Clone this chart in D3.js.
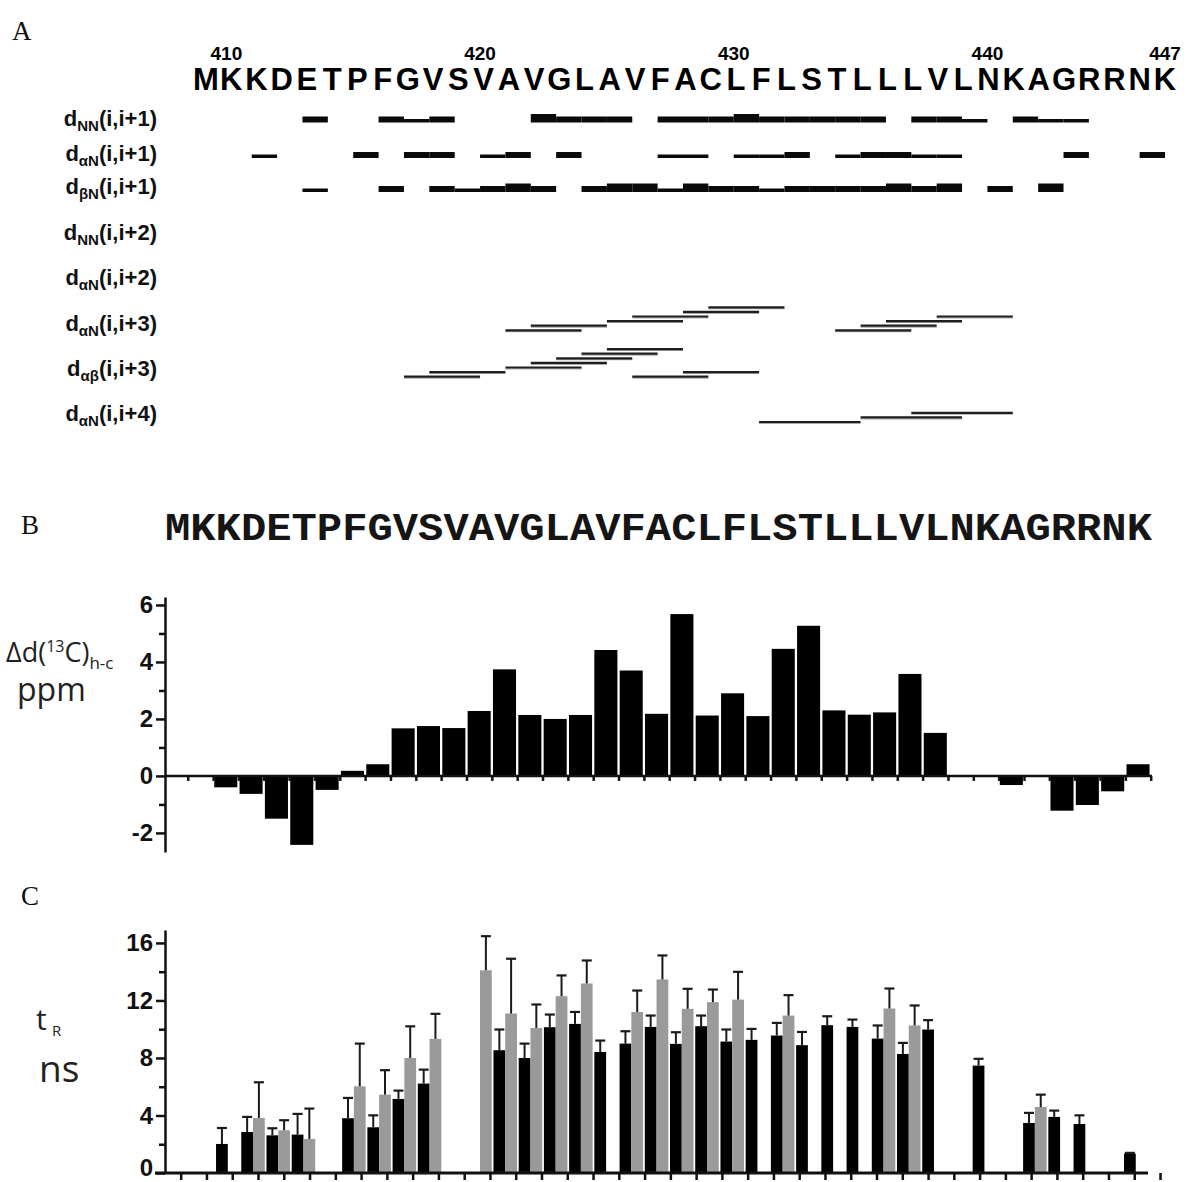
<!DOCTYPE html>
<html><head><meta charset="utf-8">
<script src="https://cdn.jsdelivr.net/npm/d3@7"></script>
<style>body{margin:0;background:#fff} svg{display:block}</style>
</head><body>
<svg id="chart" width="1187" height="1182"></svg>
<script>
// ================= DATA =================
// Panel A
const sequence = "MKKDETPFGVSVAVGLAVFACLFLSTLLLVLNKAGRRNK".split("");
const firstResidue = 409;
const positionLabels = [410, 420, 430, 440, 447];
const noeRowSubs  = ["NN", "αN", "βN", "NN", "αN", "αN", "αβ", "αN"];
const noeRowSpans = ["(i,i+1)", "(i,i+1)", "(i,i+1)", "(i,i+2)", "(i,i+2)", "(i,i+3)", "(i,i+3)", "(i,i+4)"];

// sequential NOEs: [residue i, intensity 1 = weak, 2 = medium, 3 = strong]
const dNN_i1 = [[413,2],[416,2],[417,1],[418,2],[422,3],[423,2],[424,2],[425,2],[427,2],[428,2],[429,2],
                [430,3],[431,2],[432,2],[433,2],[434,2],[435,2],[437,2],[438,2],[439,1],[441,2],[442,1],[443,1]];
const daN_i1 = [[411,1],[415,2],[417,2],[418,2],[420,1],[421,2],[423,2],[427,1],[428,1],[430,1],[431,1],
                [432,2],[434,1],[435,2],[436,2],[437,1],[438,1],[443,2],[446,2]];
const dbN_i1 = [[413,1],[416,2],[418,2],[419,1],[420,2],[421,3],[422,2],[424,2],[425,3],[426,3],[427,1],
                [428,3],[429,2],[430,2],[431,1],[432,2],[433,2],[434,2],[435,2],[436,3],[437,2],[438,3],
                [440,2],[442,3]];
// medium-range NOEs: [residue i, stacking track]
const dNN_i2 = [];
const daN_i2 = [];
const daN_i3 = [[421,0],[422,1],[425,2],[426,3],[428,4],[429,5],[434,0],[435,1],[436,2],[438,3]];
const dab_i3 = [[417,0],[418,1],[421,2],[422,3],[423,4],[424,5],[425,6],[426,0],[428,1]];
const daN_i4 = [[431,0],[435,1],[437,2]];

// Panel B : Δδ(13C) helix - coil (ppm), one value per residue 409..447
const shiftDiff = [0, 0, -0.40, -0.63, -1.50, -2.42, -0.49, 0.18, 0.41, 1.67,
                   1.75, 1.68, 2.28, 3.74, 2.14, 2.00, 2.14, 4.42, 3.70, 2.18,
                   5.68, 2.12, 2.90, 2.10, 4.46, 5.27, 2.30, 2.15, 2.23, 3.58,
                   1.51, 0, 0, -0.32, 0, -1.22, -1.02, -0.54, 0.41];
const shiftTicks = [-2, 0, 2, 4, 6];
const shiftMinorTicks = [-1, 1, 3, 5];
const shiftAxisExtent = [-2.67, 6.28];

// Panel C : tR (ns), black and grey series with upper error
const tauBlack = [null, null, 2.02, 2.85, 2.62, 2.67, null, 3.81, 3.18, 5.15,
                  6.22, null, null, 8.54, 8.00, 10.14, 10.37, 8.42, 9.00, 10.16,
                  8.98, 10.21, 9.14, 9.26, 9.56, 8.89, 10.28, 10.16, 9.35, 8.28,
                  9.98, null, 7.47, null, 3.48, 3.90, 3.41, null, 1.35];
const tauBlackErr = [null, null, 1.11, 1.05, 0.49, 1.44, null, 1.41, 0.83, 0.58,
                     0.97, null, null, 1.44, 1.00, 0.88, 0.83, 0.79, 0.86, 0.79,
                     0.81, 0.74, 0.84, 0.76, 0.88, 0.92, 0.62, 0.51, 0.91, 0.77,
                     0.65, null, 0.47, null, 0.70, 0.44, 0.60, null, 0.05];
const tauGrey = [null, null, null, 3.83, 2.97, 2.37, null, 6.03, 5.45, 8.00,
                 9.33, null, 14.10, 11.09, 10.09, 12.30, 13.18, null, 11.20, 13.46,
                 11.42, 11.88, 12.06, null, 10.95, null, null, null, 11.44, 10.26,
                 null, null, null, null, 4.59, null, null, null, null];
const tauGreyErr = [null, null, null, 2.48, 0.70, 2.11, null, 2.97, 1.70, 2.20,
                    1.74, null, 2.37, 3.81, 1.63, 1.44, 1.60, null, 1.49, 1.67,
                    1.39, 0.88, 1.93, null, 1.42, null, null, null, 1.39, 1.39,
                    null, null, null, null, 0.86, null, null, null, null];
const tauTicks = [0, 4, 8, 12, 16];
const tauMinorTicks = [2, 6, 10, 14];
const tauAxisMax = 16.9;
const tauAxisTickCount = 39;

// ================= DRAW =================
const svg = d3.select("#chart");
const SERIF = "'Liberation Serif','Times New Roman',serif";
const SANS = "'Liberation Sans',Arial,Helvetica,sans-serif";
const OPEN = "'Open Sans','Noto Sans',sans-serif";
const MONO = "'Courier New','Liberation Mono',monospace";
const nRes = sequence.length;
const resIdx = d3.range(nRes);

svg.append("rect").attr("width", 1187).attr("height", 1182).attr("fill", "#fff");

// panel letters
[["A", 12, 40], ["B", 21, 534], ["C", 21, 905]].forEach(([t, x, y]) =>
  svg.append("text").attr("x", x).attr("y", y).attr("font-family", SERIF)
     .attr("font-size", 27).attr("fill", "#111").text(t));

// ---------- Panel A ----------
const xA = d3.scaleLinear().domain([firstResidue, firstResidue + nRes - 1]).range([201, 1165]);
const xLetter = d3.scaleLinear().domain([firstResidue, firstResidue + nRes - 1]).range([206, 1165]);
const thick = d3.scaleLinear().domain([1, 3]).range([3.5, 8.5]);

const gA = svg.append("g");
gA.selectAll("text.pos").data(positionLabels).join("text")
  .attr("x", d => xA(d)).attr("y", 60).attr("text-anchor", "middle")
  .attr("font-family", SANS).attr("font-weight", "bold").attr("font-size", 19).text(d => d);

gA.selectAll("text.res").data(sequence).join("text")
  .attr("x", (d, i) => xLetter(firstResidue + i)).attr("y", 90).attr("text-anchor", "middle")
  .attr("font-family", SANS).attr("font-weight", "bold").attr("font-size", 31).text(d => d);

const rowBaselines = [126, 161, 194, 240, 285, 331, 376, 421];
noeRowSubs.forEach((sub, r) => {
  const t = gA.append("text").attr("x", 157).attr("y", rowBaselines[r]).attr("text-anchor", "end")
    .attr("font-family", SANS).attr("font-weight", "bold").attr("font-size", 22).attr("fill", "#111");
  t.append("tspan").text("d");
  t.append("tspan").attr("font-size", 15).attr("dy", 5).text(sub);
  t.append("tspan").attr("dy", -5).text(noeRowSpans[r]);
});

// sequential NOE bars (bottom aligned)
const seqRows = [{data: dNN_i1, bottom: 122.5}, {data: daN_i1, bottom: 158}, {data: dbN_i1, bottom: 192}];
seqRows.forEach(row => {
  gA.append("g").selectAll("rect").data(row.data).join("rect")
    .attr("x", d => xA(d[0])).attr("width", d => xA(d[0] + 1) - xA(d[0]))
    .attr("y", d => row.bottom - thick(d[1])).attr("height", d => thick(d[1]))
    .attr("fill", "#0a0a0a");
});

// medium-range NOE lines
const medRows = [
  {data: dNN_i2, span: 2, base: 240}, {data: daN_i2, span: 2, base: 285},
  {data: daN_i3, span: 3, base: 330.3}, {data: dab_i3, span: 3, base: 376.7},
  {data: daN_i4, span: 4, base: 422}];
const trackStep = 4.6;
medRows.forEach(row => {
  const g = gA.append("g");
  g.selectAll("line.sh").data(row.data).join("line")
    .attr("x1", d => xA(d[0])).attr("x2", d => xA(d[0] + row.span))
    .attr("y1", d => row.base - d[1] * trackStep + 1.4).attr("y2", d => row.base - d[1] * trackStep + 1.4)
    .attr("stroke", "#a8a8a8").attr("stroke-width", 1.2);
  g.selectAll("line.mn").data(row.data).join("line")
    .attr("x1", d => xA(d[0])).attr("x2", d => xA(d[0] + row.span))
    .attr("y1", d => row.base - d[1] * trackStep).attr("y2", d => row.base - d[1] * trackStep)
    .attr("stroke", "#1e1e1e").attr("stroke-width", 2.2);
});

// ---------- Panel B ----------
svg.append("text").attr("x", 165).attr("y", 540)
  .attr("font-family", MONO).attr("font-weight", "bold").attr("font-size", 38)
  .attr("textLength", 987).attr("lengthAdjust", "spacingAndGlyphs").attr("fill", "#151515")
  .text(sequence.join(""));

const xB = d3.scaleBand().domain(resIdx).range([162.4, 1150.7]).paddingInner(0.09).paddingOuter(0.045);
const yB = d3.scaleLinear().domain(shiftAxisExtent).range([852, 597]);
const gB = svg.append("g");

gB.selectAll("rect").data(shiftDiff.map((v, i) => ({v, i})).filter(d => d.v !== 0)).join("rect")
  .attr("x", d => xB(d.i)).attr("width", xB.bandwidth())
  .attr("y", d => yB(Math.max(0, d.v))).attr("height", d => Math.abs(yB(d.v) - yB(0)))
  .attr("fill", "#000");

function styleAxis(g, fs) {
  g.selectAll(".domain").attr("stroke", "#111").attr("stroke-width", 2.5);
  g.selectAll(".tick line").attr("stroke", "#111").attr("stroke-width", 2.5);
  g.selectAll(".tick text").attr("font-family", SANS).attr("font-weight", "bold")
    .attr("font-size", fs).attr("fill", "#111");
}

// x axis B
const xBEdge = d3.scaleLinear().domain([0, nRes]).range(xB.range());
gB.append("line").attr("x1", 165).attr("x2", 1152).attr("y1", yB(0)).attr("y2", yB(0))
  .attr("stroke", "#111").attr("stroke-width", 2.5);
gB.append("g").attr("transform", `translate(0,${yB(0)})`)
  .call(d3.axisBottom(xBEdge).tickValues(d3.range(1, nRes + 1)).tickSize(5).tickFormat(""))
  .call(g => g.select(".domain").remove()).call(g => styleAxis(g, 10));

// y axis B
gB.append("g").attr("transform", "translate(165,0)")
  .call(d3.axisLeft(yB).tickValues(shiftTicks).tickSize(9).tickSizeOuter(0).tickPadding(3).tickFormat(d => String(d)))
  .call(g => styleAxis(g, 24));
gB.append("g").attr("transform", "translate(165,0)")
  .call(d3.axisLeft(yB).tickValues(shiftMinorTicks).tickSize(6).tickFormat(""))
  .call(g => g.select(".domain").remove()).call(g => styleAxis(g, 10));

// y label B
const lb = svg.append("text").attr("x", 6).attr("y", 662).attr("font-family", OPEN)
  .attr("font-size", 27).attr("fill", "#222");
lb.append("tspan").text("Δd(");
lb.append("tspan").attr("font-size", 16).attr("dy", -10).text("13");
lb.append("tspan").attr("dy", 10).text("C)");
lb.append("tspan").attr("font-size", 17).attr("dy", 7).text("h-c");
svg.append("text").attr("x", 17).attr("y", 701).attr("font-family", OPEN)
  .attr("font-size", 32).attr("fill", "#222").text("ppm");

// ---------- Panel C ----------
const xC = d3.scaleBand().domain(resIdx).range([165.6, 1147.5]).paddingInner(0.068).paddingOuter(0).align(0);
const xSub = d3.scaleBand().domain(["black", "grey"]).range([0, xC.bandwidth()]);
const yC = d3.scaleLinear().domain([0, tauAxisMax]).range([1173, 930]);
const colors = {black: "#000", grey: "#9a9a9a"};
const gC = svg.append("g");

const series = [
  {key: "black", vals: tauBlack, errs: tauBlackErr},
  {key: "grey", vals: tauGrey, errs: tauGreyErr}];
series.forEach(s => {
  const pts = s.vals.map((v, i) => ({v, e: s.errs[i], i})).filter(d => d.v !== null);
  const g = gC.append("g");
  g.selectAll("rect").data(pts).join("rect")
    .attr("x", d => xC(d.i) + xSub(s.key)).attr("width", xSub.bandwidth())
    .attr("y", d => yC(d.v)).attr("height", d => yC(0) - yC(d.v))
    .attr("fill", colors[s.key]);
  const cx = d => xC(d.i) + xSub(s.key) + xSub.bandwidth() / 2;
  g.selectAll("line.ev").data(pts).join("line")
    .attr("x1", cx).attr("x2", cx).attr("y1", d => yC(d.v)).attr("y2", d => yC(d.v + d.e))
    .attr("stroke", "#1a1a1a").attr("stroke-width", 2);
  g.selectAll("line.cap").data(pts).join("line")
    .attr("x1", d => cx(d) - 5).attr("x2", d => cx(d) + 5)
    .attr("y1", d => yC(d.v + d.e)).attr("y2", d => yC(d.v + d.e))
    .attr("stroke", "#1a1a1a").attr("stroke-width", 2.2);
});

// x axis C
const xCTick = d3.scaleLinear().domain([0, tauAxisTickCount - 1]).range([180.7, 1160]);
gC.append("line").attr("x1", 155).attr("x2", 1148).attr("y1", yC(0)).attr("y2", yC(0))
  .attr("stroke", "#111").attr("stroke-width", 2.8);
gC.append("g").attr("transform", `translate(0,${yC(0)})`)
  .call(d3.axisBottom(xCTick).tickValues(d3.range(tauAxisTickCount)).tickSize(7).tickFormat(""))
  .call(g => g.select(".domain").remove()).call(g => styleAxis(g, 10));

// y axis C
gC.append("g").attr("transform", "translate(165,0)")
  .call(d3.axisLeft(yC).tickValues(tauTicks).tickSize(9).tickSizeOuter(0).tickPadding(3).tickFormat(d => String(d)))
  .call(g => styleAxis(g, 24))
  .call(g => g.selectAll(".tick text").filter(d => d === 0).attr("dy", "0.1em"));
gC.append("g").attr("transform", "translate(165,0)")
  .call(d3.axisLeft(yC).tickValues(tauMinorTicks).tickSize(6).tickFormat(""))
  .call(g => g.select(".domain").remove()).call(g => styleAxis(g, 10));

// y label C
svg.append("text").attr("x", 36).attr("y", 1030).attr("font-family", OPEN)
  .attr("font-size", 30).attr("fill", "#222").text("t");
svg.append("text").attr("x", 52).attr("y", 1036).attr("font-family", OPEN)
  .attr("font-size", 15).attr("fill", "#222").text("R");
svg.append("text").attr("x", 39).attr("y", 1082).attr("font-family", OPEN)
  .attr("font-size", 37).attr("fill", "#222").text("ns");
</script>
</body></html>
